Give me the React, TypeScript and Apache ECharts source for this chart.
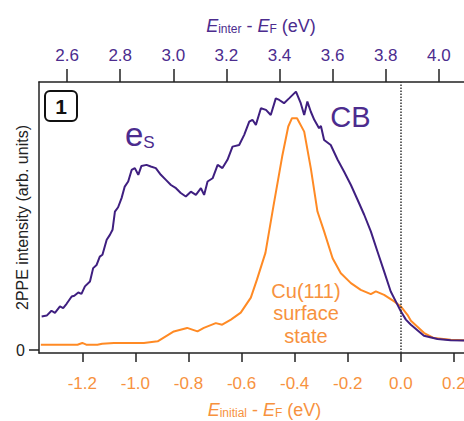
import React, { useEffect, useRef } from "react";
import * as echarts from "echarts";

// E_initial - E_F (eV) and 2PPE intensity (arb. units)
const cbEnergy = [
  -1.353, -1.334, -1.316, -1.303, -1.284, -1.272, -1.259, -1.24, -1.23, -1.215, -1.203, -1.19, -1.171,
  -1.159, -1.146, -1.134, -1.124, -1.108, -1.096, -1.086, -1.077, -1.065, -1.052, -1.04, -1.027, -1.014,
  -1.002, -0.989, -0.977, -0.958, -0.942, -0.923, -0.904, -0.885, -0.866, -0.847, -0.829, -0.81, -0.791,
  -0.772, -0.753, -0.741, -0.728, -0.709, -0.69, -0.672, -0.653, -0.634, -0.609, -0.59, -0.571, -0.559,
  -0.546, -0.527, -0.508, -0.49, -0.471, -0.458, -0.44, -0.421, -0.395, -0.377, -0.364, -0.352, -0.339,
  -0.326, -0.308, -0.301, -0.289, -0.264, -0.238, -0.214, -0.188, -0.163, -0.138, -0.113, -0.088, -0.063,
  -0.038, -0.019, 0.0, 0.019, 0.038, 0.087, 0.138, 0.188, 0.241,
];
const cbIntensity = [
  12.6, 12.9, 14.7, 13.9, 16.3, 15.7, 17.3, 20.0, 20.3, 21.5, 21.0, 23.8, 25.6,
  30.6, 31.8, 34.9, 35.6, 41.2, 43.0, 44.9, 51.7, 53.3, 56.7, 61.0, 62.9, 67.2,
  67.9, 65.4, 68.7, 69.1, 68.5, 67.9, 65.4, 63.5, 61.6, 60.4, 58.6, 57.3, 59.1,
  57.9, 60.4, 57.9, 62.9, 64.1, 69.1, 67.9, 71.0, 75.9, 76.5, 80.3, 85.2, 85.9,
  84.0, 90.2, 89.6, 87.7, 93.9, 93.3, 92.1, 93.9, 96.4, 92.1, 87.7, 92.7, 88.9,
  85.9, 82.8, 83.6, 78.4, 76.5, 71.0, 66.6, 61.6, 56.1, 50.5, 44.3, 36.8, 29.4,
  21.9, 18.2, 14.5, 11.4, 9.5, 5.4, 4.2, 3.7, 3.65,
];

const ssEnergy = [
  -1.356, -1.218, -1.2, -1.185, -1.143, -1.125, -1.081, -0.968, -0.916, -0.855, -0.805, -0.766, -0.742,
  -0.697, -0.673, -0.64, -0.603, -0.565, -0.542, -0.51, -0.48, -0.447, -0.424, -0.41, -0.391, -0.364,
  -0.339, -0.314, -0.289, -0.257, -0.226, -0.188, -0.151, -0.113, -0.094, -0.063, -0.025, 0.0, 0.025,
  0.038, 0.088, 0.125, 0.188, 0.241,
];
const ssIntensity = [
  2.05, 2.05, 2.7, 2.05, 2.05, 2.4, 2.7, 2.7, 3.3, 7.0, 8.3, 7.0, 8.3,
  10.1, 9.5, 11.4, 14.0, 19.6, 26.3, 36.3, 53.6, 72.2, 83.4, 86.5, 86.5, 81.5,
  67.8, 51.7, 44.3, 34.3, 28.7, 25.0, 22.5, 20.9, 21.9, 20.6, 18.2, 16.3, 13.2,
  11.0, 6.4, 4.5, 3.9, 3.65,
];

const bottomTicks = [-1.2, -1.0, -0.8, -0.6, -0.4, -0.2, 0.0, 0.2];
const topTicks = [2.6, 2.8, 3.0, 3.2, 3.4, 3.6, 3.8, 4.0];
const yTicks = [0];

const FONT = "'Liberation Sans', Arial, Helvetica, sans-serif";
const PURPLE_LINE = "#3f1f80";
const PURPLE_TEXT = "#4c2c8e";
const ORANGE_LINE = "#ff8a24";
const ORANGE_TEXT = "#f7923e";
const AXIS = "#222222";

function nameRich(color: string) {
  return {
    i: { fontStyle: "italic", fontSize: 18, color, fontFamily: FONT, lineHeight: 18 },
    n: { fontSize: 18, color, fontFamily: FONT, lineHeight: 18 },
    sub: { fontSize: 12, color, fontFamily: FONT, lineHeight: 12, verticalAlign: "bottom" },
  };
}

export default function App() {
  const ref = useRef<HTMLDivElement>(null);

  useEffect(() => {
    if (!ref.current) return;
    const chart = echarts.init(ref.current, undefined, { renderer: "svg" });
    const cb = cbEnergy.map((e, i) => [e, cbIntensity[i]]);
    const ss = ssEnergy.map((e, i) => [e, ssIntensity[i]]);

    chart.setOption({
      animation: false,
      backgroundColor: "#ffffff",
      textStyle: { fontFamily: FONT },
      grid: { left: 39, right: 0, top: 82, bottom: 68, containLabel: false, outerBoundsMode: "none" },
      xAxis: [
        {
          type: "value",
          position: "bottom",
          min: -1.363,
          max: 0.238,
          axisLine: { show: true, onZero: false, lineStyle: { color: AXIS, width: 1.5 } },
          axisTick: { show: true, length: 9, customValues: bottomTicks, lineStyle: { color: AXIS, width: 1.5 } },
          axisLabel: {
            customValues: bottomTicks,
            formatter: (v: number) => v.toFixed(1),
            color: ORANGE_TEXT,
            fontSize: 17,
            margin: 22,
            fontFamily: FONT,
          },
          splitLine: { show: false },
          name: "{i|E}{sub|initial}{n| - }{i|E}{sub|F}{n| (eV)}",
          nameLocation: "middle",
          nameGap: 48,
          nameMoveOverlap: false,
          nameTextStyle: { padding: [0, 0, 0, 26], rich: nameRich(ORANGE_TEXT) },
        },
        {
          type: "value",
          position: "top",
          min: 2.494,
          max: 4.095,
          axisLine: { show: true, onZero: false, lineStyle: { color: AXIS, width: 1.5 } },
          axisTick: { show: true, length: 13, customValues: topTicks, lineStyle: { color: AXIS, width: 1.5 } },
          axisLabel: {
            customValues: topTicks,
            formatter: (v: number) => v.toFixed(1),
            color: PURPLE_TEXT,
            fontSize: 17,
            margin: 18,
            fontFamily: FONT,
          },
          splitLine: { show: false },
          name: "{i|E}{sub|inter}{n| - }{i|E}{sub|F}{n| (eV)}",
          nameLocation: "middle",
          nameGap: 47,
          nameMoveOverlap: false,
          nameTextStyle: { padding: [0, 0, 0, 19], rich: nameRich(PURPLE_TEXT) },
        },
      ],
      yAxis: {
        type: "value",
        min: -1.05,
        max: 100,
        axisLine: { show: true, onZero: false, lineStyle: { color: AXIS, width: 1.5 } },
        axisTick: { show: true, length: 10, customValues: yTicks, lineStyle: { color: AXIS, width: 1.5 } },
        axisLabel: {
          customValues: yTicks,
          color: AXIS,
          fontSize: 16,
          margin: 14,
          fontFamily: FONT,
        },
        splitLine: { show: false },
        name: "2PPE intensity (arb. units)",
        nameLocation: "middle",
        nameGap: 9,
        nameRotate: 90,
        nameMoveOverlap: false,
        nameTextStyle: { color: AXIS, fontSize: 16, fontFamily: FONT },
      },
      series: [
        {
          name: "CB",
          type: "line",
          xAxisIndex: 0,
          data: cb,
          showSymbol: false,
          symbol: "none",
          lineStyle: { color: PURPLE_LINE, width: 2 },
          z: 3,
          markLine: {
            silent: true,
            symbol: ["none", "none"],
            label: { show: false },
            lineStyle: { type: "dotted", color: "#333333", width: 1.5 },
            data: [{ xAxis: 0 }],
          },
        },
        {
          name: "Cu(111) surface state",
          type: "line",
          xAxisIndex: 0,
          data: ss,
          showSymbol: false,
          symbol: "none",
          lineStyle: { color: ORANGE_LINE, width: 2 },
          z: 2,
        },
      ],
      graphic: [
        {
          type: "rect",
          shape: { x: 45, y: 91, width: 32, height: 30, r: 5 },
          style: { fill: "#ffffff", stroke: "#111111", lineWidth: 2 },
          z: 10,
        },
        {
          type: "text",
          x: 61,
          y: 106.5,
          style: {
            text: "1",
            fontSize: 21,
            fontWeight: "bold",
            fontFamily: FONT,
            fill: "#111111",
            align: "center",
            verticalAlign: "middle",
          },
          z: 11,
        },
        {
          type: "text",
          x: 125,
          y: 134,
          style: {
            text: "{e|e}{s|S}",
            fontFamily: FONT,
            verticalAlign: "middle",
            rich: {
              e: { fontSize: 33, fill: PURPLE_TEXT, fontFamily: FONT, lineHeight: 36 },
              s: { fontSize: 17, fill: PURPLE_TEXT, fontFamily: FONT, padding: [16, 0, 0, 0], lineHeight: 36 },
            },
          },
          z: 10,
        },
        {
          type: "text",
          x: 350.5,
          y: 117,
          style: {
            text: "CB",
            fontSize: 29,
            fontFamily: FONT,
            fill: PURPLE_TEXT,
            align: "center",
            verticalAlign: "middle",
          },
          z: 10,
        },
        {
          type: "text",
          x: 306,
          y: 313,
          style: {
            text: "Cu(111)\nsurface\nstate",
            fontSize: 20,
            lineHeight: 22.5,
            fontFamily: FONT,
            fill: ORANGE_TEXT,
            align: "center",
            verticalAlign: "middle",
          },
          z: 10,
        },
      ],
    });

    return () => chart.dispose();
  }, []);

  return (
    <div
      ref={ref}
      style={{ position: "fixed", left: 0, top: 0, width: 464, height: 421, background: "#ffffff" }}
    />
  );
}
